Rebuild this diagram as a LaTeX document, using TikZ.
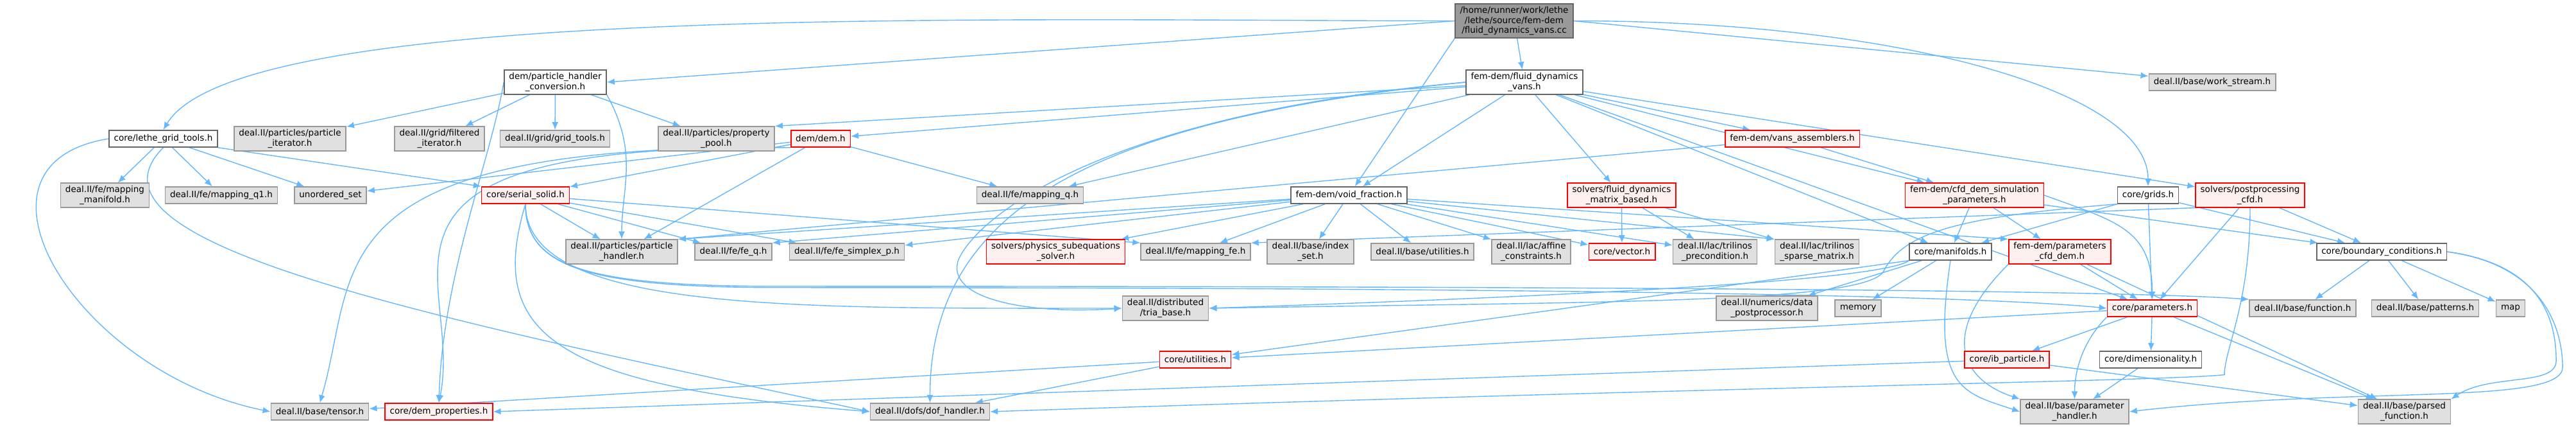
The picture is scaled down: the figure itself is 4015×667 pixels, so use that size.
\documentclass[tikz,border=0pt]{standalone}
\usepackage{fontspec}
\setmainfont{DejaVu Sans}
\usepackage{tikz}
\usetikzlibrary{arrows.meta,backgrounds}

\definecolor{edgeblue}{HTML}{63B8FF}
\definecolor{incfill}{HTML}{E0E0E0}
\definecolor{incdraw}{HTML}{999999}
\definecolor{rootfill}{HTML}{999999}
\definecolor{srcdraw}{HTML}{666666}
\definecolor{truncfill}{HTML}{FFF0F0}

\begin{document}
\begin{tikzpicture}[
  x=0.02cm, y=0.02cm,
  font=\fontsize{7.7}{8.6}\selectfont,
  base/.style  ={rectangle, align=center, inner xsep=0.15cm, inner ysep=0.09cm,
                 minimum height=0.52cm, line width=0.9pt},
  inc/.style   ={base, draw=incdraw, fill=incfill},
  src/.style   ={base, draw=srcdraw, fill=white},
  trunc/.style ={base, draw=red, fill=truncfill},
  root/.style  ={base, draw=srcdraw, fill=rootfill},
  arr/.style   ={-{Latex[length=2.4mm,width=2mm]}, draw=edgeblue, line width=0.8pt}
]
\useasboundingbox (0,0) rectangle (4015,667);

% top rows
\node[root] (top) at (2360,634.5) {/home/runner/work/lethe\\/lethe/source/fem-dem\\/fluid\_dynamics\_vans.cc};
\node[src] (vans) at (2376,539) {fem-dem/fluid\_dynamics\\\_vans.h};
\node[src] (phc) at (865.5,539) {dem/particle\_handler\\\_conversion.h};
\node[inc] (ws) at (3448,539) {deal.II/base/work\_stream.h};

\node[src] (lgt) at (254.5,451) {core/lethe\_grid\_tools.h};
\node[inc] (piter) at (452,451) {deal.II/particles/particle\\\_iterator.h};
\node[inc] (filt) at (685,451) {deal.II/grid/filtered\\\_iterator.h};
\node[inc] (gtools) at (865,451) {deal.II/grid/grid\_tools.h};
\node[inc] (ppool) at (1116.5,451) {deal.II/particles/property\\\_pool.h};
\node[trunc] (dem) at (1279,451) {dem/dem.h};
\node[trunc] (vasm) at (2793.5,451) {fem-dem/vans\_assemblers.h};

% middle row
\node[inc] (mapman) at (163.5,363) {deal.II/fe/mapping\\\_manifold.h};
\node[inc] (mapq1) at (345,363) {deal.II/fe/mapping\_q1.h};
\node[inc] (uset) at (515,363) {unordered\_set};
\node[trunc] (ssolid) at (819,363) {core/serial\_solid.h};
\node[inc] (mapq) at (1605.5,363) {deal.II/fe/mapping\_q.h};
\node[src] (vf) at (2102.5,363) {fem-dem/void\_fraction.h};
\node[trunc] (fdmb) at (2527.5,363) {solvers/fluid\_dynamics\\\_matrix\_based.h};
\node[trunc] (cfdsp) at (3077.5,363) {fem-dem/cfd\_dem\_simulation\\\_parameters.h};
\node[src] (grids) at (3348,363) {core/grids.h};
\node[trunc] (ppcfd) at (3507,363) {solvers/postprocessing\\\_cfd.h};

\node[inc] (phand) at (969,275) {deal.II/particles/particle\\\_handler.h};
\node[inc] (feq) at (1143,275) {deal.II/fe/fe\_q.h};
\node[inc] (fesp) at (1320,275) {deal.II/fe/fe\_simplex\_p.h};
\node[trunc] (pss) at (1645.5,275) {solvers/physics\_subequations\\\_solver.h};
\node[inc] (mapfe) at (1863.5,275) {deal.II/fe/mapping\_fe.h};
\node[inc] (iset) at (2042.5,275) {deal.II/base/index\\\_set.h};
\node[inc] (butil) at (2217,275) {deal.II/base/utilities.h};
\node[inc] (affc) at (2386.5,275) {deal.II/lac/affine\\\_constraints.h};
\node[trunc] (cvec) at (2528,275) {core/vector.h};
\node[inc] (tprec) at (2673,275) {deal.II/lac/trilinos\\\_precondition.h};
\node[inc] (tsparse) at (2832,275) {deal.II/lac/trilinos\\\_sparse\_matrix.h};
\node[src] (manif) at (3040,275) {core/manifolds.h};
\node[trunc] (pcfd) at (3210.5,275) {fem-dem/parameters\\\_cfd\_dem.h};
\node[src] (bc) at (3712,275) {core/boundary\_conditions.h};

% lower rows
\node[inc] (tria) at (1816.5,187) {deal.II/distributed\\/tria\_base.h};
\node[inc] (dpost) at (2754,187) {deal.II/numerics/data\\\_postprocessor.h};
\node[inc] (memory) at (2896,187) {memory};
\node[trunc] (param) at (3354.5,187) {core/parameters.h};
\node[inc] (func) at (3589,187) {deal.II/base/function.h};
\node[inc] (patt) at (3780,187) {deal.II/base/patterns.h};
\node[inc] (map) at (3913,187) {map};

\node[trunc] (cutil) at (1863,107) {core/utilities.h};
\node[trunc] (ib) at (3128,107) {core/ib\_particle.h};
\node[src] (dim) at (3352,107) {core/dimensionality.h};

\node[inc] (tensor) at (498.5,26) {deal.II/base/tensor.h};
\node[trunc] (demprop) at (684,26) {core/dem\_properties.h};
\node[inc] (dofh) at (1449.5,26) {deal.II/dofs/dof\_handler.h};
\node[inc] (phandler) at (3233.5,26) {deal.II/base/parameter\\\_handler.h};
\node[inc] (parsedf) at (3747.5,26) {deal.II/base/parsed\\\_function.h};

\begin{scope}[on background layer]
% source file
\draw[arr] (top.west) .. controls +(-700,0) and +(120,200) .. (lgt.north);
\draw[arr] (top.west) -- (phc.east);
\draw[arr] (top) -- (vans);
\draw[arr] (top.south west) -- (vf);
\draw[arr] (top.east) -- (ws);
\draw[arr] (top.east) .. controls +(500,0) and +(0,150) .. (grids.north);

% dem/particle_handler_conversion.h
\draw[arr] (phc) -- (piter);
\draw[arr] (phc) -- (filt);
\draw[arr] (phc) -- (gtools);
\draw[arr] (phc) -- (ppool);
\draw[arr] (phc.south east) .. controls +(50,-90) and +(0,80) .. (phand.north);
\draw[arr] (phc.west) .. controls +(-20,-120) and +(6,200) .. (demprop.north);

% fem-dem/fluid_dynamics_vans.h
\draw[arr] (vans) -- (mapq);
\draw[arr] (vans) -- (dem);
\draw[arr] (vans) -- (ppool.north east);
\draw[arr] (vans) -- (vf);
\draw[arr] (vans) -- (fdmb);
\draw[arr] (vans) -- (vasm);
\draw[arr] (vans) -- (cfdsp);
\draw[arr] (vans) -- (ppcfd);
\draw[arr] (vans) -- (manif);
\draw[arr] (vans) -- (param);
\draw[arr] (vans.west) .. controls +(-560,-50) and +(30,70) .. ([shift={(-255,75)}]tria.west)
  .. controls +(-20,-60) and +(-150,-10) .. (tria.west);
\draw[arr] (vans.west) .. controls +(-584,-59) and +(0,300) .. (dofh.north);

% core/lethe_grid_tools.h
\draw[arr] (lgt) -- (mapman);
\draw[arr] (lgt) -- (mapq1);
\draw[arr] (lgt) -- (uset);
\draw[arr] (lgt.south east) -- (ssolid.north west);
\draw[arr] (lgt.west) .. controls +(-250,-40) and +(-300,60) .. (tensor.west);
\draw[arr] (lgt.south) .. controls +(-150,-150) and +(-700,150) .. (dofh.west);

% dem/dem.h
\draw[arr] (dem) -- (uset);
\draw[arr] (dem) -- (ssolid);
\draw[arr] (dem) -- (phand);
\draw[arr] (dem) -- (mapq);
\draw[arr] (dem.south west) .. controls +(-751,7) and +(62,211) .. (tensor.north);
\draw[arr] (dem.south west) .. controls +(-731,7) and +(40,200) .. (demprop.north);

% core/serial_solid.h
\draw[arr] (ssolid) -- (phand);
\draw[arr] (ssolid) -- (feq);
\draw[arr] (ssolid) -- (fesp);
\draw[arr] (ssolid) -- (mapfe.north west);
\draw[arr] (ssolid.south) .. controls +(0,-170) and +(-500,0) .. (tria.west);
\draw[arr] (ssolid.south) .. controls +(0,-100) and +(-300,0) .. ([shift={(400,-130)}]ssolid.south)
  .. controls +(1200,0) and +(-200,20) .. (param.west);
\draw[arr] (ssolid.south) .. controls +(0,-100) and +(-300,0) .. ([shift={(400,-128)}]ssolid.south)
  .. controls +(1200,0) and +(-200,15) .. (func.north west);
\draw[arr] (ssolid.south) .. controls +(-60,-200) and +(-500,40) .. (dofh.west);

% fem-dem/void_fraction.h
\draw[arr] (vf) -- (phand.north east);
\draw[arr] (vf) -- (feq.north east);
\draw[arr] (vf) -- (fesp);
\draw[arr] (vf) -- (pss);
\draw[arr] (vf) -- (mapfe);
\draw[arr] (vf) -- (iset);
\draw[arr] (vf) -- (butil);
\draw[arr] (vf) -- (affc);
\draw[arr] (vf) -- (cvec);
\draw[arr] (vf) -- (tprec);
\draw[arr] (vf) -- (tsparse.north west);
\draw[arr] (vf) -- (pcfd.north west);

% solvers and fem-dem headers
\draw[arr] (fdmb) -- (cvec);
\draw[arr] (fdmb) -- (tprec);
\draw[arr] (fdmb) -- (tsparse);
\draw[arr] (vasm) -- (phand.north east);
\draw[arr] (vasm) -- (cfdsp);
\draw[arr] (cfdsp) -- (manif);
\draw[arr] (cfdsp) -- (pcfd);
\draw[arr] (cfdsp) -- (bc);
\draw[arr] (cfdsp.east) .. controls +(110,-40) and +(0,110) .. (param.north);
\draw[arr] (pcfd) -- (param);
\draw[arr] (pcfd.south west) .. controls +(-110,-110) and +(-90,30) .. (phandler.north west);
\draw[arr] (pcfd) -- (parsedf);

% core/grids.h and postprocessing
\draw[arr] (grids) -- (manif);
\draw[arr] (grids) -- (param);
\draw[arr] (grids) -- (bc);
\draw[arr] (grids.south west) .. controls +(-250,-20) and +(30,60) .. ([shift={(-364,-105)}]grids.south west)
  .. controls +(-30,-50) and +(600,10) .. (tria.east);
\draw[arr] (ppcfd) -- (param);
\draw[arr] (ppcfd) -- (bc);
\draw[arr] (ppcfd.south west) -- (mapfe.north east);
\draw[arr] (ppcfd.south) .. controls +(0,-150) and +(0,40) .. ([shift={(-40,-260)}]ppcfd.south)
  .. controls +(-100,-10) and +(1200,40) .. (dofh.east);

% core/manifolds.h
\draw[arr] (manif) -- (dpost);
\draw[arr] (manif) -- (memory);
\draw[arr] (manif.south west) .. controls +(-40,-30) and +(600,20) .. (tria.east);
\draw[arr] (manif.south west) -- (cutil);
\draw[arr] (manif.south) .. controls +(-30,-200) and +(-90,30) .. (phandler.west);

% core/parameters.h and below
\draw[arr] (param) -- (ib);
\draw[arr] (param) -- (dim);
\draw[arr] (param.south west) .. controls +(-40,-40) and +(0,40) .. (phandler.north);
\draw[arr] (param) -- (parsedf);
\draw[arr] (param) -- (cutil);
\draw[arr] (dim) -- (phandler);
\draw[arr] (ib) -- (demprop.east);
\draw[arr] (ib) -- (parsedf);
\draw[arr] (cutil) -- (tensor);
\draw[arr] (cutil) -- (dofh);

% core/boundary_conditions.h
\draw[arr] (bc) -- (func);
\draw[arr] (bc) -- (patt);
\draw[arr] (bc) -- (map);
\draw[arr] (bc.east) .. controls +(150,-20) and +(0,60) .. ([shift={(170,-170)}]bc.east)
  .. controls +(0,-40) and +(60,40) .. (parsedf.north east);
\draw[arr] (bc.east) .. controls +(150,-20) and +(0,60) .. ([shift={(180,-180)}]bc.east)
  .. controls +(0,-60) and +(350,40) .. (phandler.east);
\end{scope}
\end{tikzpicture}
\end{document}
